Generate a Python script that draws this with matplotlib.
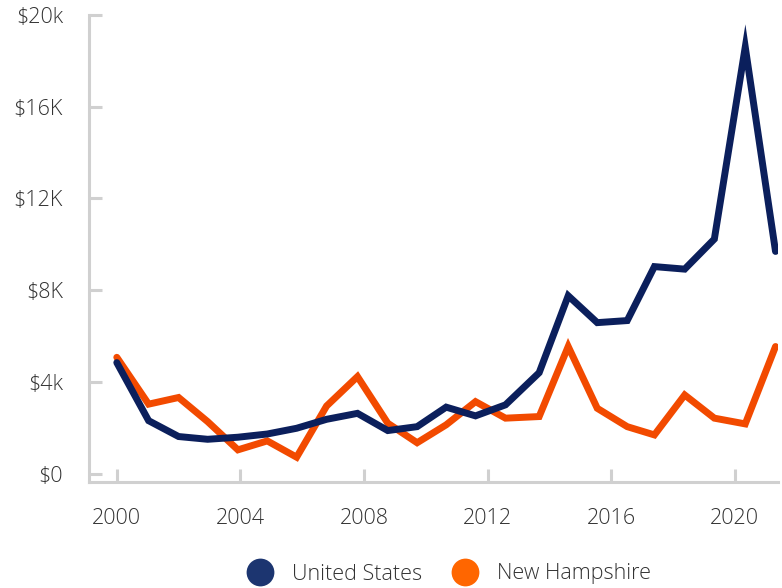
import matplotlib
matplotlib.use("Agg")
import matplotlib.pyplot as plt
from matplotlib.lines import Line2D

# Data (values in $K)
years = [2000.0, 2001.03, 2002.0, 2002.94, 2003.92, 2004.87, 2005.82, 2006.79,
         2007.79, 2008.77, 2009.72, 2010.66, 2011.61, 2012.58, 2013.67, 2014.61,
         2015.55, 2016.52, 2017.40, 2018.38, 2019.34, 2020.34, 2021.32]
united_states = [4.85, 2.32, 1.63, 1.51, 1.60, 1.74, 1.99, 2.38, 2.64, 1.89, 2.06,
                 2.91, 2.53, 3.01, 4.41, 7.76, 6.59, 6.68, 9.03, 8.92, 10.23,
                 18.59, 9.69]
new_hampshire = [5.08, 3.04, 3.33, 2.28, 1.05, 1.44, 0.73, 2.96, 4.24, 2.21, 1.36,
                 2.14, 3.15, 2.43, 2.50, 5.55, 2.86, 2.06, 1.70, 3.44, 2.43,
                 2.18, 5.55]

x_ticks = [2000, 2004, 2008, 2012, 2016, 2020]
y_ticks = [0, 4, 8, 12, 16, 20]
y_labels = ["$0", "$4k", "$8K", "$12K", "$16K", "$20k"]

plt.rcParams['font.family'] = ['Open Sans', 'DejaVu Sans']

us_color = '#0b1f5c'
nh_color = '#f24a00'
axis_color = '#d0d0d0'
text_color = '#333333'

fig = plt.figure(figsize=(7.82, 5.88), dpi=100)
ax = fig.add_axes([89.3 / 782, (588 - 482) / 588, (778 - 89.3) / 782, (482 - 14.7) / 588])

ax.plot(years, united_states, color=us_color, linewidth=5,
        solid_joinstyle='miter', solid_capstyle='round', zorder=3)
ax.plot(years, new_hampshire, color=nh_color, linewidth=5,
        solid_joinstyle='miter', solid_capstyle='round', zorder=2)

ax.set_xlim(1999.11, 2021.4)
ax.set_ylim(-0.35, 20)

ax.set_xticks(x_ticks)
ax.set_xticklabels([str(y) for y in x_ticks])
ax.set_yticks(y_ticks)
ax.set_yticklabels(y_labels)

for side in ['top', 'right']:
    ax.spines[side].set_visible(False)
for side in ['left', 'bottom']:
    ax.spines[side].set_color(axis_color)
    ax.spines[side].set_linewidth(2.2)

ax.tick_params(axis='both', direction='in', length=9.5, width=2.2,
               color=axis_color, labelcolor=text_color, labelsize=15.5)
ax.tick_params(axis='y', pad=19)
ax.tick_params(axis='x', pad=19)
for lbl in ax.get_xticklabels() + ax.get_yticklabels():
    lbl.set_fontweight('light')

handles = [
    Line2D([], [], linestyle='none', marker='o', markersize=20,
           markerfacecolor='#1c3570', markeredgecolor='none'),
    Line2D([], [], linestyle='none', marker='o', markersize=20,
           markerfacecolor='#ff6600', markeredgecolor='none'),
]
fig.legend(handles, ['United States', 'New Hampshire'], loc='center',
           bbox_to_anchor=(449 / 782, 1 - 574 / 588), ncol=2, frameon=False,
           prop={'size': 15.5, 'weight': 'light'}, labelcolor=text_color,
           handletextpad=0.9, columnspacing=1.35, borderpad=0, handlelength=1.2)

fig.savefig('out.png', dpi=100)
